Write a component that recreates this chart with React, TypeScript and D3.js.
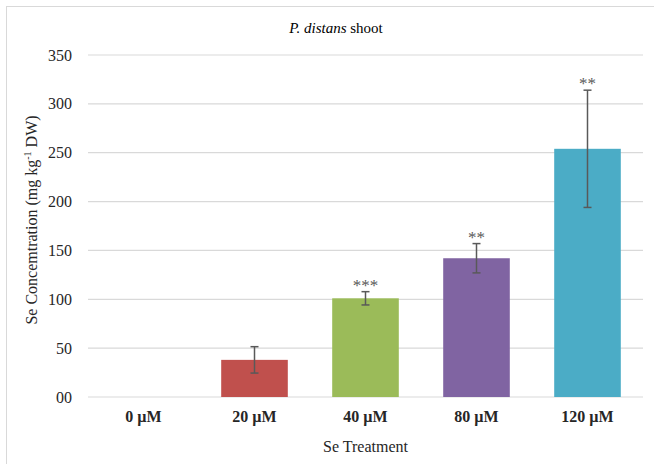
import React from 'react';
import * as d3 from 'd3';

const categories = ['0 µM', '20 µM', '40 µM', '80 µM', '120 µM'];
const means = [0, 38, 101, 142, 254];
const errors = [0, 13.5, 6.8, 15, 60];
const stars = ['', '', '***', '**', '**'];
const colors = ['#C0504D', '#C0504D', '#9BBB59', '#8064A2', '#4BACC6'];
const yTicks = [0, 50, 100, 150, 200, 250, 300, 350];

const W = 654;
const H = 464;
const margin = { top: 55, right: 11, bottom: 67, left: 88 };
const font = "'Liberation Serif', 'DejaVu Serif', serif";

const App = () => {
  const innerW = W - margin.left - margin.right;
  const innerH = H - margin.top - margin.bottom;

  const x = d3.scaleBand().domain(categories).range([0, innerW]).paddingInner(0.4).paddingOuter(0.2);
  const y = d3.scaleLinear().domain([0, 350]).range([innerH, 0]);

  return (
    <svg width={W} height={H} style={{ position: 'absolute', left: 0, top: 0, fontFamily: font }}>
      <rect x={0} y={0} width={W} height={H} fill="#fff" />
      <rect x={6.5} y={6.5} width={W + 10} height={H + 10} fill="none" stroke="#D9D9D9" />
      <text x={336} y={33} textAnchor="middle" fontSize={15} fill="#000">
        <tspan fontStyle="italic">P. distans</tspan> shoot
      </text>
      <g transform={`translate(${margin.left},${margin.top})`}>
        {yTicks.map(t => (
          <g key={t}>
            <line x1={0} x2={innerW} y1={y(t)} y2={y(t)} stroke="#D9D9D9" strokeWidth={1.2} />
            <text x={-16} y={y(t)} dy="0.35em" textAnchor="end" fontSize={16} fill="#262626">
              {t === 0 ? '00' : t}
            </text>
          </g>
        ))}
        {means.map((m, i) => {
          const bx = x(categories[i])!;
          const cx = bx + x.bandwidth() / 2;
          if (m === 0) return null;
          const top = y(m + errors[i]);
          const bot = y(m - errors[i]);
          return (
            <g key={categories[i]}>
              <rect x={bx} y={y(m)} width={x.bandwidth()} height={innerH - y(m)} fill={colors[i]} />
              <line x1={cx} x2={cx} y1={top} y2={bot} stroke="#595959" strokeWidth={1.5} />
              <line x1={cx - 4} x2={cx + 4} y1={top} y2={top} stroke="#595959" strokeWidth={1.5} />
              <line x1={cx - 4} x2={cx + 4} y1={bot} y2={bot} stroke="#595959" strokeWidth={1.5} />
              {stars[i] && (
                <text x={cx} y={top - 1} textAnchor="middle" fontSize={17} fill="#595959">
                  {stars[i]}
                </text>
              )}
            </g>
          );
        })}
        {categories.map(c => (
          <text key={c} x={x(c)! + x.bandwidth() / 2} y={innerH + 25} textAnchor="middle"
            fontSize={16} fontWeight="bold" fill="#262626">
            {c}
          </text>
        ))}
        <text x={innerW / 2} y={innerH + 55} textAnchor="middle" fontSize={16} fill="#262626">
          Se Treatment
        </text>
      </g>
      <text transform={`translate(37,${margin.top + innerH / 2 - 6}) rotate(-90)`} textAnchor="middle"
        fontSize={16} fill="#262626">
        Se Concemtration (mg kg<tspan dy={-6} fontSize={10}>-1</tspan><tspan dy={6}> DW)</tspan>
      </text>
    </svg>
  );
};

export default App;
